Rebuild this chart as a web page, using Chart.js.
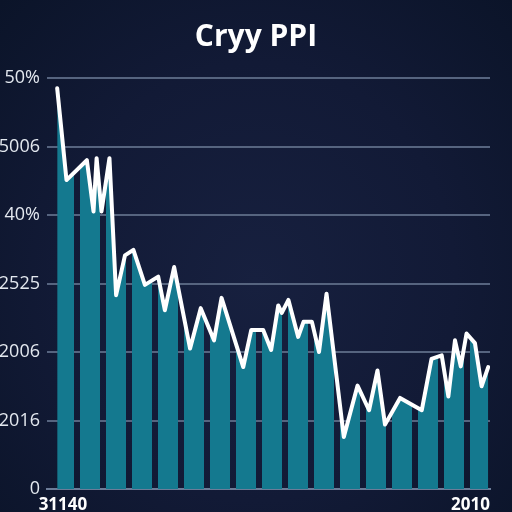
<!DOCTYPE html>
<html>
<head>
<meta charset="utf-8">
<script src="https://cdn.jsdelivr.net/npm/chart.js@4.4.1/dist/chart.umd.min.js"></script>
<style>
  html, body { margin: 0; padding: 0; }
  body {
    width: 512px; height: 512px; overflow: hidden;
    background: radial-gradient(ellipse at 50% 55%, #17203f 0%, #121a36 55%, #0b1429 100%);
  }
  canvas { display: block; }
</style>
</head>
<body>
<canvas id="chart" width="512" height="512"></canvas>
<script>
// Dados
const titulo = 'Cryy PPI';
const yTickLabels = ['0', '12016', '2006', '2525', '40%', '5006', '50%'];
const xTickPos = [3.6, 95.6];
const xTickLabels = ['31140', '2010'];
const barCount = 17;

const posX = [2.3, 4.4, 9.0, 10.5, 11.2, 12.3, 14.1, 15.6, 17.6, 19.5, 22.1, 25.1, 26.6, 28.7,
  32.3, 34.7, 37.7, 39.4, 44.3, 46.1, 48.8, 50.6, 52.2, 53.0, 54.5, 56.7, 57.9, 59.8, 61.4,
  63.1, 67.0, 70.1, 72.7, 74.6, 76.3, 79.7, 84.6, 86.8, 89.1, 90.6, 92.1, 93.4, 94.7, 96.6,
  98.1, 99.6];
const valores = [5.85, 4.51, 4.80, 4.05, 4.83, 4.05, 4.83, 2.83, 3.41, 3.49, 2.98, 3.10, 2.61, 3.24,
  2.05, 2.64, 2.17, 2.79, 1.78, 2.32, 2.32, 2.03, 2.68, 2.57, 2.76, 2.22, 2.44, 2.44, 2.00,
  2.85, 0.76, 1.51, 1.15, 1.73, 0.94, 1.33, 1.15, 1.90, 1.95, 1.35, 2.17, 1.79, 2.27, 2.13,
  1.50, 1.78];

const pontos = posX.map((x, i) => ({ x: x, y: valores[i] }));

const teal = '#14798f';

// preenchimento em listras (as "barras" por baixo da linha)
let cache = null;
function listras(chart) {
    const a = chart.chartArea;
    if (!a) return teal;
    const key = a.left + ':' + a.right;
    if (cache && cache.key === key) return cache.p;
    const w = Math.round(a.right - a.left);
    const c = document.createElement('canvas');
    c.width = w;
    c.height = 1;
    const g = c.getContext('2d');
    const slot = w / barCount;
    g.fillStyle = teal;
    for (let i = 0; i < barCount; i++) {
        g.fillRect(Math.round(slot * i + slot * 0.25), 0, Math.round(slot * 0.75), 1);
    }
    const p = chart.ctx.createPattern(c, 'repeat-y');
    p.setTransform(new DOMMatrix().translate(a.left, 0));
    cache = { key: key, p: p };
    return p;
}

new Chart(document.getElementById('chart'), {
    type: 'line',
    data: {
        datasets: [
            {
                data: pontos,
                borderWidth: 0,
                borderColor: 'rgba(0,0,0,0)',
                backgroundColor: (ctx) => listras(ctx.chart),
                fill: 'origin',
                pointRadius: 0,
                tension: 0,
                order: 2
            },
            {
                data: pontos,
                borderColor: '#ffffff',
                borderWidth: 4,
                borderJoinStyle: 'round',
                borderCapStyle: 'round',
                fill: false,
                pointRadius: 0,
                tension: 0,
                order: 1
            }
        ]
    },
    options: {
        responsive: false,
        animation: false,
        layout: { padding: 0 },
        plugins: {
            legend: { display: false },
            tooltip: { enabled: false },
            title: {
                display: true,
                text: titulo,
                color: '#ffffff',
                font: { family: "'Open Sans', sans-serif", size: 30, weight: 'bold' },
                padding: { top: 19, bottom: 23 }
            }
        },
        scales: {
            x: {
                type: 'linear',
                min: 0,
                max: 100,
                afterFit: (s) => { s.height = 23; },
                afterBuildTicks: (s) => { s.ticks = xTickPos.map(v => ({ value: v })); },
                grid: { display: false, drawTicks: false },
                border: { display: true, color: '#6c7c98', width: 2 },
                ticks: {
                    color: '#ffffff',
                    padding: 6,
                    maxRotation: 0,
                    autoSkip: false,
                    font: { family: "'Open Sans', sans-serif", size: 17, weight: 'bold' },
                    callback: (v, i) => xTickLabels[i]
                }
            },
            y: {
                min: 0,
                max: 6,
                afterFit: (s) => { s.width = 47; },
                grid: { color: '#56647f', lineWidth: 2, drawTicks: false },
                border: { display: false },
                ticks: {
                    stepSize: 1,
                    color: '#e3e8ef',
                    padding: 7,
                    font: { family: "'Open Sans', sans-serif", size: 18 },
                    callback: (v) => yTickLabels[v]
                }
            },
            // margem direita vazia
            yDir: {
                position: 'right',
                min: 0,
                max: 6,
                afterFit: (s) => { s.width = 22; },
                grid: { display: false, drawTicks: false },
                border: { display: false },
                ticks: { display: false }
            }
        }
    }
});
</script>
</body>
</html>
